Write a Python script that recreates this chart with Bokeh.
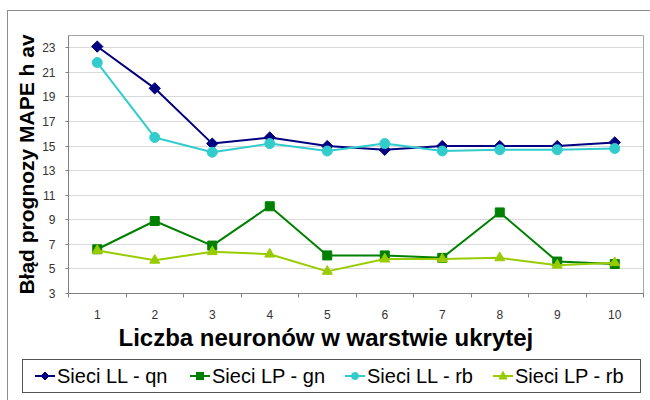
import math
from bokeh.plotting import figure
from bokeh.layouts import column
from bokeh.models import (Range1d, FixedTicker, Title, InlineStyleSheet, Div)
from bokeh.embed import file_html
from bokeh.resources import INLINE

# ---- data ----
neurons = [1, 2, 3, 4, 5, 6, 7, 8, 9, 10]
ll_qn = [23.1, 19.7, 15.2, 15.7, 15.0, 14.7, 15.0, 15.0, 15.0, 15.3]
lp_gn = [6.6, 8.9, 6.9, 10.1, 6.1, 6.1, 5.9, 9.6, 5.6, 5.4]
ll_rb = [21.8, 15.7, 14.5, 15.2, 14.6, 15.2, 14.6, 14.7, 14.7, 14.8]
lp_rb = [6.5, 5.7, 6.4, 6.2, 4.8, 5.8, 5.8, 5.9, 5.3, 5.5]
y_ticks = [3, 5, 7, 9, 11, 13, 15, 17, 19, 21, 23]
series_names = ["Sieci LL - qn", "Sieci LP - gn", "Sieci LL - rb", "Sieci LP - rb"]
x_title = "Liczba neuronów w warstwie ukrytej"
y_title = "Błąd prognozy MAPE h av"

FONT = "Liberation Sans"
colors = ["#000080", "#008000", "#33CCCC", "#99CC00"]
markers = ["diamond", "square", "circle", "triangle"]
data = [ll_qn, lp_gn, ll_rb, lp_rb]

# bokeh marker specs for the chart
bk_marker = {"diamond": ("square", math.pi / 4, 8), "square": ("square", 0, 9),
             "circle": ("circle", 0, 10), "triangle": ("triangle", 0, 10)}

p = figure(output_backend="svg", toolbar_location=None,
           x_range=Range1d(0.5, 10.5), y_range=Range1d(3, 24),
           frame_width=575, frame_height=258,
           min_border_left=68, min_border_right=7, min_border_top=35,
           min_border_bottom=59)
p.border_fill_alpha = 0
p.background_fill_color = "white"
p.outline_line_color = "#a6a6a6"
p.outline_line_width = 1
p.stylesheets = [InlineStyleSheet(css=(
    ":host { position: relative; }"
    ":host::before { content: ''; position: absolute; left: 7px; top: 10px; "
    "right: 0px; bottom: 0px; border-left: 1px solid #8c8c8c; "
    "border-top: 1px solid #8c8c8c; pointer-events: none; }"))]

p.xaxis.ticker = FixedTicker(ticks=neurons, minor_ticks=[i + 0.5 for i in range(0, 11)])
p.xaxis.major_tick_line_color = None
p.xaxis.major_tick_out = 4
p.xaxis.major_tick_in = 0
p.xaxis.minor_tick_line_color = "#808080"
p.xaxis.minor_tick_out = 4
p.xaxis.minor_tick_in = 0
p.xaxis.axis_line_color = "#808080"
p.xaxis.major_label_standoff = 12
p.yaxis.ticker = FixedTicker(ticks=y_ticks)
p.yaxis.minor_tick_line_color = None
p.yaxis.major_tick_out = 3
p.yaxis.major_tick_in = 0
p.yaxis.major_tick_line_color = "#808080"
p.yaxis.axis_line_color = "#808080"
p.yaxis.major_label_standoff = 10
for ax in (p.xaxis, p.yaxis):
    ax.major_label_text_font = FONT
    ax.major_label_text_font_size = "12px"
    ax.major_label_text_color = "#333333"

p.xgrid.grid_line_color = None
p.ygrid.ticker = FixedTicker(ticks=y_ticks)
p.ygrid.grid_line_color = "#d9d9d9"
p.ygrid.grid_line_width = 1

for ys, c, m in zip(data, colors, markers):
    mk, ang, sz = bk_marker[m]
    p.line(neurons, ys, line_color=c, line_width=2)
    p.scatter(neurons, ys, marker=mk, angle=ang, size=sz, fill_color=c, line_color=c)

xt = Title(text=x_title, align="left", offset=50, standoff=0,
           text_font=FONT, text_font_size="24px", text_font_style="bold",
           text_color="black")
p.add_layout(xt, "below")

yt = Title(text=y_title, align="center", standoff=3,
           text_font=FONT, text_font_size="21px", text_font_style="bold",
           text_color="black")
p.add_layout(yt, "left")

# ---------------- legend strip (HTML) ----------------
svg_shapes = {
    "diamond": "<polygon points='10,6 14,10 10,14 6,10' fill='{c}' stroke='{c}'/>",
    "square": "<rect x='6.5' y='6.5' width='7' height='7' fill='{c}' stroke='{c}'/>",
    "circle": "<circle cx='10' cy='10' r='3.5' fill='{c}' stroke='{c}'/>",
    "triangle": "<polygon points='10,5.5 14,13 6,13' fill='{c}' stroke='{c}'/>",
}
item_left = [12, 167, 322, 470]
items_html = ""
for name, c, m, lx in zip(series_names, colors, markers, item_left):
    glyph = ("<svg width='20' height='20' style='flex:none'>"
             f"<line x1='0' y1='10' x2='20' y2='10' stroke='{c}' stroke-width='2'/>"
             + svg_shapes[m].format(c=c) + "</svg>")
    items_html += (f"<div style='position:absolute; left:{lx}px; top:0; bottom:0; "
                   "display:flex; align-items:center; white-space:nowrap;'>"
                   f"{glyph}<span style='margin-left:2px'>{name}</span></div>")

legend_html = (
    "<div style='position:relative; width:650px; height:48px; margin:0; padding:0;'>"
    "<div style='position:absolute; left:7px; top:0; bottom:0; "
    "border-left:1px solid #8c8c8c;'></div>"
    "<div style='position:absolute; left:22px; top:7px; width:619px; height:34px; "
    "box-sizing:border-box; border:1px solid #555555; background:white; "
    f"font-family:\"{FONT}\"; font-size:20px; color:black;'>"
    + items_html + "</div></div>")

leg = Div(text=legend_html, width=650, height=48, margin=0)

layout = column(p, leg, spacing=0)
open("out.html", "w").write(file_html(layout, INLINE))
